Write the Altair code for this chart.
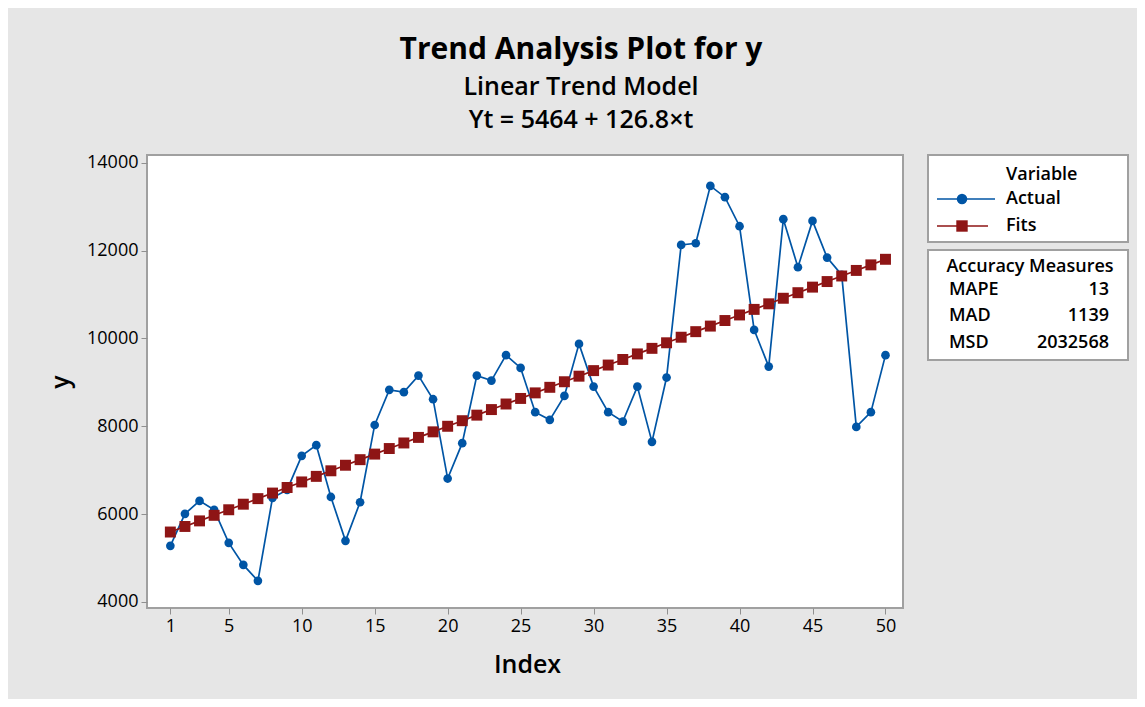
import altair as alt
import pandas as pd

# ---- data ----
index = list(range(1, 51))
actual = [5276, 6005, 6300, 6096, 5344, 4843, 4478, 6370, 6550, 7326,
          7570, 6390, 5390, 6270, 8030, 8830, 8777, 9155, 8617, 6809,
          7615, 9155, 9041, 9620, 9330, 8321, 8146, 8692, 9877, 8904,
          8321, 8107, 8904, 7645, 9110, 12132, 12170, 13476, 13219, 12558,
          10196, 9360, 12718, 11624, 12679, 11843, 11450, 7986, 8321, 9620]
fits = [5590.8, 5717.6, 5844.4, 5971.2, 6098.0, 6224.8, 6351.6, 6478.4, 6605.2, 6732.0,
        6858.8, 6985.6, 7112.4, 7239.2, 7366.0, 7492.8, 7619.6, 7746.4, 7873.2, 8000.0,
        8126.8, 8253.6, 8380.4, 8507.2, 8634.0, 8760.8, 8887.6, 9014.4, 9141.2, 9268.0,
        9394.8, 9521.6, 9648.4, 9775.2, 9902.0, 10028.8, 10155.6, 10282.4, 10409.2, 10536.0,
        10662.8, 10789.6, 10916.4, 11043.2, 11170.0, 11296.8, 11423.6, 11550.4, 11677.2, 11804.0]
x_ticks = [1, 5, 10, 15, 20, 25, 30, 35, 40, 45, 50]
y_ticks = [4000, 6000, 8000, 10000, 12000, 14000]
title_lines = ["Trend Analysis Plot for y", "Linear Trend Model", "Yt = 5464 + 126.8\u00d7t"]
legend_title = "Variable"
series_names = ["Actual", "Fits"]
acc_title = "Accuracy Measures"
acc_names = ["MAPE", "MAD", "MSD"]
acc_values = ["13", "1139", "2032568"]

BLUE = "#0055A5"
RED = "#8E1515"
FONT = "Open Sans"
W, H = 756, 453

df = pd.DataFrame({"Index": index, "Actual": actual, "Fits": fits})

xs = alt.Scale(domain=[-0.6, 51.2], nice=False, zero=False)
ys = alt.Scale(domain=[3860, 14180], nice=False, zero=False)

X = alt.X("Index:Q", scale=xs,
          axis=alt.Axis(values=x_ticks, title="Index", grid=False, domain=False,
                        tickColor="#909090", tickSize=6, labelFontSize=18, labelFont=FONT,
                        labelColor="#000000", labelPadding=3, format="d",
                        titleFontSize=25, titleFont=FONT, titleFontWeight=600,
                        titleColor="#000000", titleX=380, titleY=56,
                        titleBaseline="middle", titleAlign="center"))
base = alt.Chart(df)

act_line = base.mark_line(color=BLUE, strokeWidth=1.7).encode(
    x=X,
    y=alt.Y("Actual:Q", scale=ys,
            axis=alt.Axis(values=y_ticks, title="y", grid=False, domain=False,
                          tickColor="#909090", tickSize=6, labelFontSize=18, labelFont=FONT,
                          labelColor="#000000", labelPadding=3, format="d",
                          titleFontSize=25, titleFont=FONT, titleFontWeight=600,
                          titleColor="#000000", titleX=-87, titleY=H / 2,
                          titleBaseline="middle", titleAlign="center")))
act_pts = base.mark_circle(color=BLUE, size=75, opacity=1).encode(x="Index:Q", y="Actual:Q")
fit_line = base.mark_line(color=RED, strokeWidth=1.7).encode(x="Index:Q", y="Fits:Q")
fit_pts = base.mark_square(color=RED, size=120, opacity=1).encode(x="Index:Q", y="Fits:Q")

one = alt.Chart(pd.DataFrame({"a": [0]}))

def txt(s, x, y, size, weight=400, align="left"):
    return one.mark_text(text=s, fontSize=size, font=FONT, fontWeight=weight, align=align,
                         baseline="middle", color="#000000").encode(
        x=alt.value(x), y=alt.value(y))

# titles
titles = (txt(title_lines[0], 434, -105, 30, 700, "center")
          + txt(title_lines[1], 434, -68, 25, 600, "center")
          + txt(title_lines[2], 434, -35, 25, 600, "center"))

# legend boxes
box1 = one.mark_rect(fill="white", stroke="#a0a0a0", strokeWidth=2).encode(
    x=alt.value(781), x2=alt.value(981), y=alt.value(0), y2=alt.value(87))
box2 = one.mark_rect(fill="white", stroke="#a0a0a0", strokeWidth=2).encode(
    x=alt.value(781), x2=alt.value(981), y=alt.value(95), y2=alt.value(205))

leg_act_line = one.mark_rule(color=BLUE, strokeWidth=1.7).encode(
    x=alt.value(790), x2=alt.value(848), y=alt.value(44))
leg_act_pt = one.mark_circle(color=BLUE, size=110, opacity=1).encode(
    x=alt.value(815), y=alt.value(44))
leg_fit_line = one.mark_rule(color=RED, strokeWidth=1.7).encode(
    x=alt.value(790), x2=alt.value(841), y=alt.value(71))
leg_fit_pt = one.mark_square(color=RED, size=130, opacity=1).encode(
    x=alt.value(815), y=alt.value(71))

legend_txt = (txt(legend_title, 859, 20, 18, 600)
              + txt(series_names[0], 859, 44, 18, 600)
              + txt(series_names[1], 859, 71, 18, 600)
              + txt(acc_title, 883, 112, 18, 600, "center"))
for i, (n, v) in enumerate(zip(acc_names, acc_values)):
    yy = [135, 161, 188][i]
    legend_txt = legend_txt + txt(n, 802, yy, 18, 600) + txt(v, 962, yy, 18, 600, "right")

chart = alt.layer(
    act_line, act_pts, fit_line, fit_pts,
    titles, box1, box2, leg_act_line, leg_act_pt, leg_fit_line, leg_fit_pt, legend_txt
).properties(
    width=W, height=H,
    autosize=alt.AutoSizeParams(type="none"),
    padding={"left": 139, "top": 147, "right": 234, "bottom": 91},
    background="#e6e6e6",
).configure_view(
    fill="white", stroke="#a0a0a0", strokeWidth=2
)

chart.save("out.html", embed_options={"renderer": "svg", "actions": False})
